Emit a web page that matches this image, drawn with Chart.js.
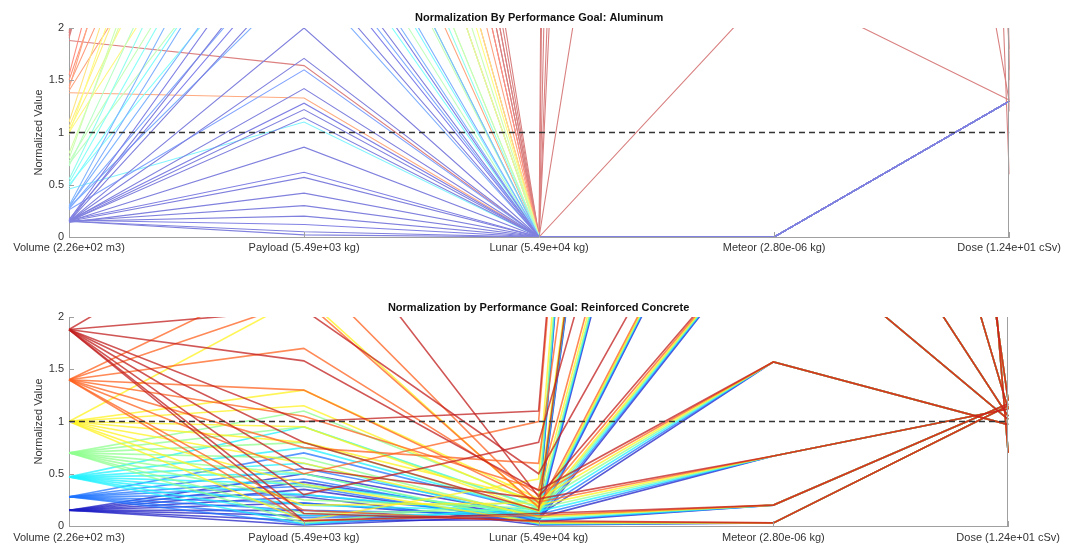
<!DOCTYPE html>
<html>
<head>
<meta charset="utf-8">
<script src="https://cdn.jsdelivr.net/npm/chart.js@4.4.1/dist/chart.umd.min.js"></script>
<style>
  html, body { margin: 0; padding: 0; background: #fff; }
  #wrap { position: relative; width: 1065px; height: 547px; }
  .panel { position: absolute; left: 0; width: 1065px; }
  canvas { display: block; }
</style>
</head>
<body>
<div id="wrap">
  <div class="panel" style="top:0;height:273px"><canvas id="alChart" width="1065" height="273"></canvas></div>
  <div class="panel" style="top:273px;height:274px"><canvas id="rcChart" width="1065" height="274"></canvas></div>
</div>
<script>
// Parallel-coordinate axes (each value normalized by its performance goal)
const axisLabels = ['Volume (2.26e+02 m3)', 'Payload (5.49e+03 kg)', 'Lunar (5.49e+04 kg)', 'Meteor (2.80e-06 kg)', 'Dose (1.24e+01 cSv)'];
const goalLevel = 1;

// ---- Aluminum designs, one entry per design ----
const alVolume = [
  0.15, 0.15, 0.16, 0.15, 0.15, 0.14, 0.15, 0.16, 0.15, 0.15, 0.15, 0.16, 0.15, 0.15, 0.15, 0.15, 0.17, 0.15, 0.16,
  0.28, 0.27, 0.29, 0.28, 0.30, 0.26,
  0.50, 0.48, 0.52, 0.55, 0.46,
  0.70, 0.72, 0.68, 0.80, 0.75,
  1.00, 1.02, 1.05, 0.98, 1.10,
  1.38, 1.40, 1.45, 1.50, 1.42, 1.55,
  1.88,
  1.90, 1.92, 1.95, 1.97, 2.00, 1.95, 1.93
];
const alPayload = [
  0.02, 0.05, 0.12, 0.20, 0.30, 0.42, 0.57, 0.62, 0.86, 1.14, 1.22, 1.28, 1.42, 1.71, 2.00, 2.60, 2.80, 3.00, 3.30,
  2.50, 2.90, 3.40, 3.90, 4.50, 1.60,
  3.20, 3.80, 4.50, 5.20, 1.10,
  3.60, 4.40, 5.50, 6.50, 7.00,
  4.50, 5.50, 6.50, 7.50, 8.00,
  1.33, 5.00, 6.50, 8.00, 9.00, 10.0,
  1.64,
  10.0, 11.0, 12.0, 13.0, 14.0, 12.0, 11.0
];
const alLunar = [
  0, 0, 0, 0, 0, 0, 0, 0, 0, 0, 0, 0, 0, 0, 0, 0, 0, 0, 0,
  0, 0, 0, 0, 0, 0,
  0, 0, 0, 0, 0,
  0, 0, 0, 0, 0,
  0, 0, 0, 0, 0,
  0, 0, 0, 0, 0, 0,
  0,
  0, 0, 0, 0, 0, 0, 0
];
const alMeteor = [
  0, 0, 0, 0, 0, 0, 0, 0, 0, 0, 0, 0, 0, 0, 0, 0, 0, 0, 0,
  0, 0, 0, 0, 0, 0,
  0, 0, 0, 0, 0,
  0, 0, 0, 0, 0,
  0, 0, 0, 0, 0,
  0, 0, 0, 0, 0, 0,
  0,
  2.42, 14.0, 47.0, 100, 200, 400, 60.0
];
const alDose = [
  1.30, 1.30, 1.30, 1.30, 1.30, 1.30, 1.30, 1.30, 1.30, 1.30, 1.30, 1.30, 1.30, 1.30, 1.30, 1.30, 1.30, 1.30, 1.30,
  1.30, 1.30, 1.30, 1.30, 1.30, 1.30,
  1.30, 1.30, 1.30, 1.30, 1.30,
  1.30, 1.30, 1.30, 1.30, 1.30,
  1.30, 1.30, 1.30, 1.30, 1.30,
  1.30, 1.30, 1.30, 1.30, 1.30, 1.30,
  1.30,
  1.31, 1.30, 1.80, 1.60, 1.50, 1.20, 0.60
];

// ---- Reinforced concrete designs, one entry per design ----
const rcVolume = [
  0.15, 0.15, 0.15, 0.15, 0.15, 0.15, 0.15, 0.15, 0.15,
  0.28, 0.28, 0.28, 0.28, 0.28, 0.28, 0.28, 0.28, 0.28,
  0.47, 0.47, 0.47, 0.47, 0.47, 0.47, 0.47, 0.47, 0.47,
  0.70, 0.70, 0.70, 0.70, 0.70, 0.70, 0.70, 0.70, 0.70,
  1.00, 1.00, 1.00, 1.00, 1.00, 1.00, 1.00, 1.00, 1.00,
  1.40, 1.40, 1.40, 1.40, 1.40, 1.40, 1.40, 1.40, 1.40,
  1.88, 1.88, 1.88, 1.88, 1.88, 1.88, 1.88, 1.88, 1.88
];
const rcPayload = [
  0.50, 0.42, 0.35, 0.28, 0.22, 0.15, 0.10, 0.05, 0.01,
  0.70, 0.55, 0.45, 0.38, 0.30, 0.22, 0.15, 0.08, 0.02,
  0.95, 0.75, 0.60, 0.50, 0.40, 0.30, 0.20, 0.10, 0.02,
  1.10, 0.95, 0.65, 0.50, 0.80, 0.38, 0.25, 0.12, 0.03,
  1.30, 1.15, 0.60, 0.40, 2.20, 0.95, 0.80, 0.20, 0.05,
  1.70, 1.30, 0.05, 0.15, 2.48, 2.16, 1.05, 0.75, 0.50,
  1.58, 0.55, 0.05, 0.12, 3.20, 2.07, 0.30, 0.80, 1.00
];
const rcLunar = [
  0.10, 0.08, 0.04, 0.01, 0.05, 0.05, 0.08, 0.06, 0.10,
  0.14, 0.11, 0.05, 0.02, 0.08, 0.07, 0.11, 0.09, 0.13,
  0.18, 0.14, 0.06, 0.02, 0.11, 0.10, 0.14, 0.12, 0.18,
  0.22, 0.17, 0.08, 0.03, 0.14, 0.12, 0.17, 0.16, 0.25,
  0.26, 0.20, 0.09, 0.03, 0.17, 0.14, 0.25, 0.22, 0.45,
  0.30, 0.23, 0.10, 0.04, 0.22, 0.18, 0.35, 0.60, 1.00,
  0.34, 0.26, 0.12, 0.05, 0.28, 0.50, 0.80, 0.15, 1.10
];
const rcMeteor = [
  1.57, 0.67, 0.20, 0.03, 2.90, 4.50, 8.70, 17.0, 28.0,
  1.57, 0.67, 0.20, 0.03, 2.90, 4.50, 8.70, 17.0, 28.0,
  1.57, 0.67, 0.20, 0.03, 2.90, 4.50, 8.70, 17.0, 28.0,
  1.57, 0.67, 0.20, 0.03, 2.90, 4.50, 8.70, 17.0, 28.0,
  1.57, 0.67, 0.20, 0.03, 2.90, 4.50, 8.70, 17.0, 28.0,
  1.57, 0.67, 0.20, 0.03, 2.90, 4.50, 8.70, 17.0, 28.0,
  1.57, 0.67, 0.20, 0.03, 2.90, 4.50, 8.70, 17.0, 28.0
];
const rcDose = [
  0.97, 1.12, 1.17, 1.15, 1.02, 1.05, 1.12, 1.20, 0.70,
  0.97, 1.12, 1.17, 1.15, 1.02, 1.05, 1.12, 1.20, 0.70,
  0.97, 1.12, 1.17, 1.15, 1.02, 1.05, 1.12, 1.20, 0.70,
  0.97, 1.12, 1.17, 1.15, 1.02, 1.05, 1.12, 1.20, 0.70,
  0.97, 1.12, 1.17, 1.15, 1.02, 1.05, 1.12, 1.20, 0.70,
  0.97, 1.12, 1.17, 1.15, 1.02, 1.05, 1.12, 1.20, 0.70,
  0.97, 1.12, 1.17, 1.15, 1.02, 1.05, 1.12, 1.20, 0.70
];

Chart.defaults.font.family = "'Liberation Sans', Arial, Helvetica, sans-serif";

// jet colormap, t in [0, 1]
function jet(t) {
  const c = v => Math.max(0, Math.min(1, v));
  return [c(1.5 - Math.abs(4 * t - 3)), c(1.5 - Math.abs(4 * t - 2)), c(1.5 - Math.abs(4 * t - 1))];
}
// Lines are coloured by their volume value
const colorStops = [[0.15, 0.06], [0.28, 0.22], [0.47, 0.36], [0.70, 0.50], [1.00, 0.64], [1.40, 0.80], [1.90, 0.95]];
function volumeToT(v) {
  if (v <= colorStops[0][0]) return colorStops[0][1];
  for (let i = 1; i < colorStops.length; i++) {
    const [v1, t1] = colorStops[i], [v0, t0] = colorStops[i - 1];
    if (v <= v1) return t0 + (t1 - t0) * (v - v0) / (v1 - v0);
  }
  return colorStops[colorStops.length - 1][1];
}
function lineColor(v, whiten, alpha) {
  const c = jet(volumeToT(v)).map(x => Math.round(255 * (x * (1 - whiten) + whiten)));
  return `rgba(${c[0]},${c[1]},${c[2]},${alpha})`;
}

function buildLines(vol, pay, lun, met, dose, style) {
  const idx = vol.map((_, i) => i).sort((a, b) => vol[a] - vol[b]);
  const n = idx.length;
  return idx.map((i, rank) => ({
    data: [vol[i], pay[i], lun[i], met[i], dose[i]],
    borderColor: lineColor(vol[i], style.whiten, style.alpha),
    borderWidth: style.width,
    pointRadius: 0,
    tension: 0,
    fill: false,
    // smaller order is painted later (on top)
    order: style.highOnTop ? (n - rank + 1) : (rank + 2)
  }));
}

// axis frame: right edge at the last coordinate and short inward ticks
const frame = {
  id: 'frame',
  afterDraw(chart) {
    const { ctx, chartArea: a, scales: { x, y } } = chart;
    ctx.save();
    ctx.strokeStyle = '#a0a0a0';
    ctx.lineWidth = 1;
    ctx.beginPath();
    const xr = Math.round(x.getPixelForValue(axisLabels.length - 1)) - 0.5;
    ctx.moveTo(xr, a.top); ctx.lineTo(xr, a.bottom);
    x.ticks.forEach((_, i) => {
      const px = Math.round(x.getPixelForTick(i)) + 0.5;
      ctx.moveTo(px, a.bottom); ctx.lineTo(px, a.bottom - 5);
    });
    y.ticks.forEach((_, i) => {
      const py = Math.round(y.getPixelForTick(i)) + 0.5;
      ctx.moveTo(a.left, py); ctx.lineTo(a.left + 5, py);
    });
    ctx.stroke();
    ctx.restore();
  }
};

function makeChart(id, title, lines, layout) {
  const datasets = lines.concat([{
    data: axisLabels.map(() => goalLevel),
    borderColor: '#333333',
    borderWidth: 1.5,
    borderDash: [6, 4],
    pointRadius: 0,
    tension: 0,
    order: 0
  }]);
  return new Chart(document.getElementById(id), {
    type: 'line',
    data: { labels: axisLabels, datasets },
    options: {
      responsive: false,
      animation: false,
      events: [],
      layout: { padding: { left: 0, right: 55, top: 0, bottom: 0 } },
      plugins: {
        legend: { display: false },
        tooltip: { enabled: false },
        title: {
          display: true, text: title, fullSize: false, color: '#111',
          font: { size: 11, weight: 'bold' },
          padding: { top: layout.titleTop, bottom: layout.titleBottom }
        }
      },
      scales: {
        x: {
          type: 'category', offset: false,
          grid: { display: false, drawTicks: false },
          border: { display: true, color: '#a0a0a0' },
          ticks: { autoSkip: false, maxRotation: 0, minRotation: 0, padding: layout.xPad, color: '#333', font: { size: 11 } },
          afterFit: s => { s.height = layout.xHeight; }
        },
        y: {
          min: 0, max: 2,
          ticks: { stepSize: 0.5, padding: 5, color: '#333', font: { size: 11 }, callback: v => String(v) },
          grid: { display: false, drawTicks: false },
          border: { display: true, color: '#a0a0a0' },
          title: { display: true, text: 'Normalized Value', color: '#333', font: { size: 11 }, padding: { top: 32, bottom: 0 } },
          afterFit: s => { s.width = 69; }
        }
      }
    },
    plugins: [frame]
  });
}

makeChart('alChart', 'Normalization By Performance Goal: Aluminum',
  buildLines(alVolume, alPayload, alLunar, alMeteor, alDose, { whiten: 0.5, alpha: 1, width: 1.1, highOnTop: false }),
  { titleTop: 11.4, titleBottom: 3.4, xHeight: 36, xPad: 4 });

makeChart('rcChart', 'Normalization by Performance Goal: Reinforced Concrete',
  buildLines(rcVolume, rcPayload, rcLunar, rcMeteor, rcDose, { whiten: 0.12, alpha: 0.75, width: 1.6, highOnTop: true }),
  { titleTop: 28.4, titleBottom: 2.4, xHeight: 21, xPad: 5 });
</script>
</body>
</html>
